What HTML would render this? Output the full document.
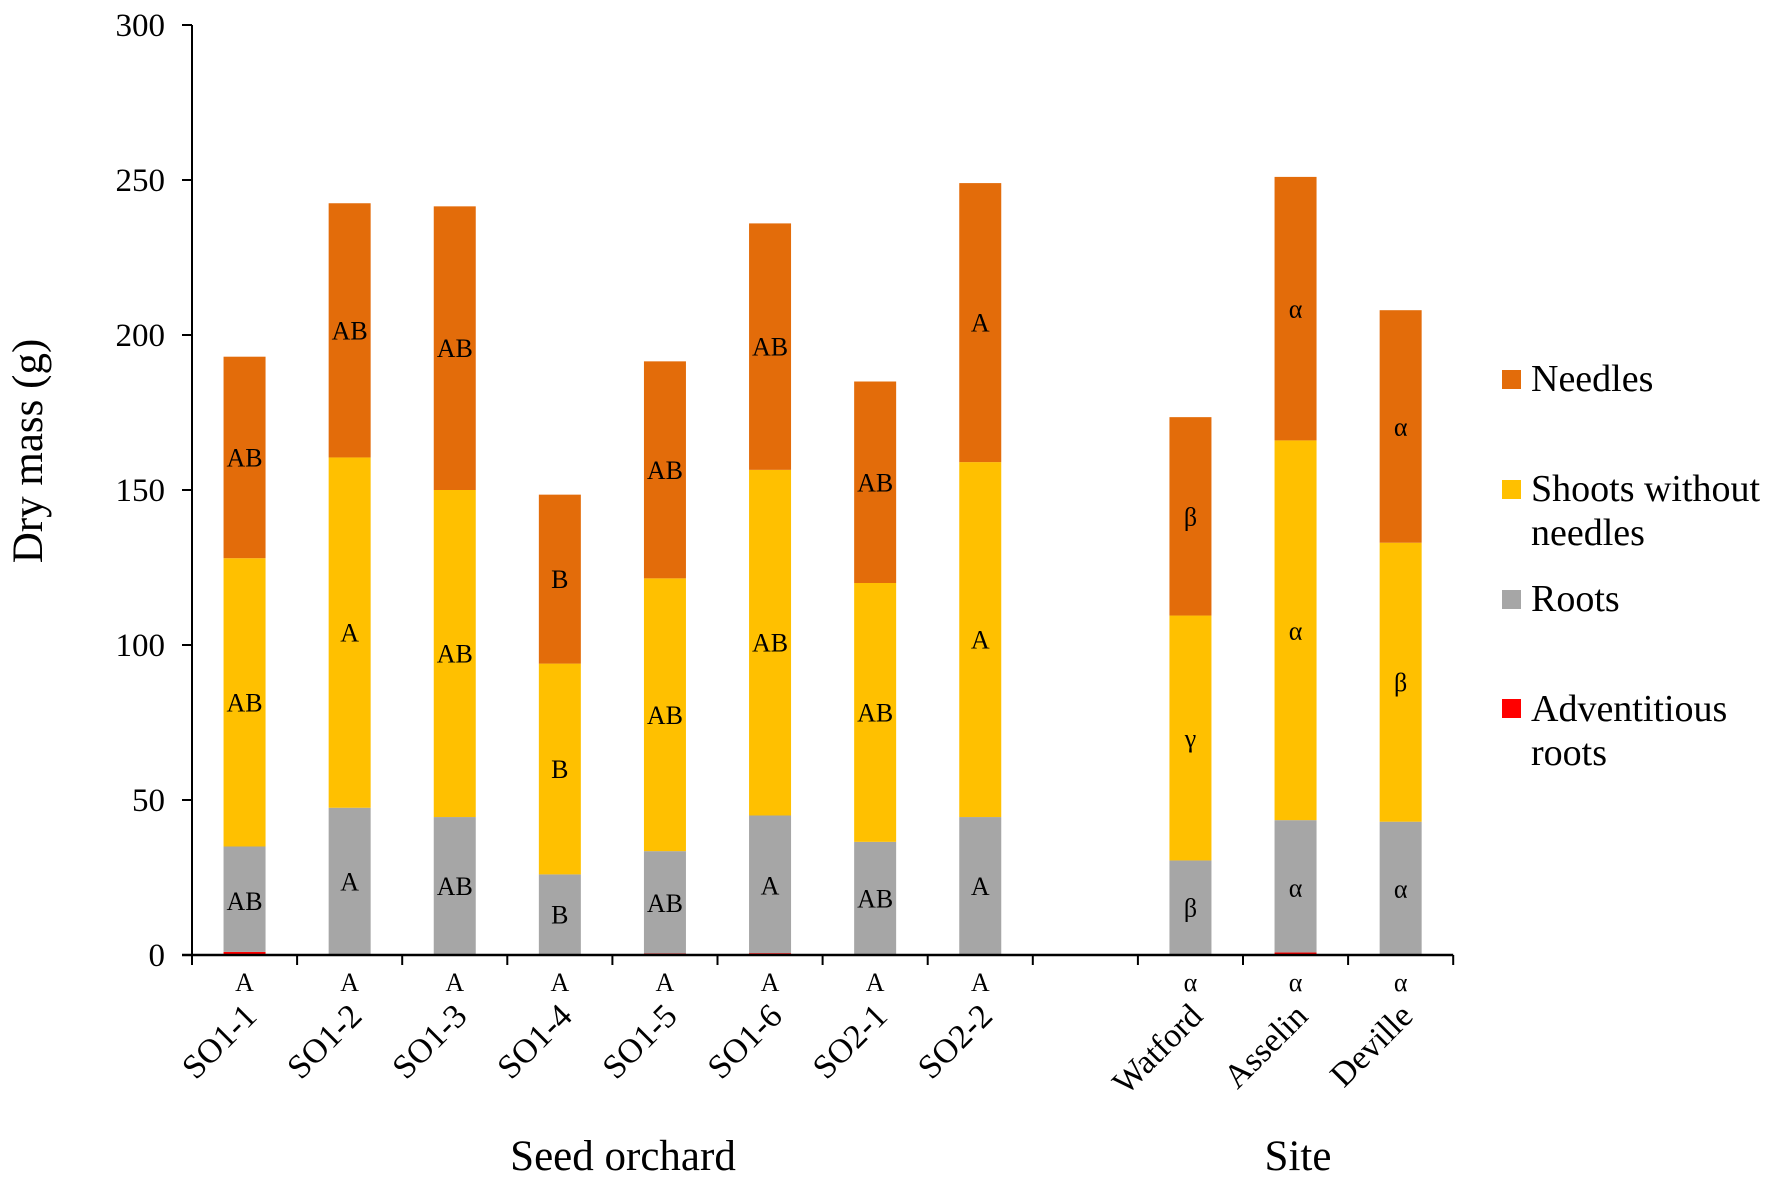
<!DOCTYPE html>
<html><head><meta charset="utf-8"><style>
html,body{margin:0;padding:0;background:#fff}
svg{display:block;font-family:"Liberation Serif",serif}
</style></head><body>
<svg id="chart" width="1772" height="1184" viewBox="0 0 1772 1184" xmlns="http://www.w3.org/2000/svg">
<g id="bars"></g>
<g id="axes"></g>
<text transform="translate(42,451) rotate(-90)" text-anchor="middle" font-size="43">Dry mass (g)</text>
<text x="623" y="1170" text-anchor="middle" font-size="43">Seed orchard</text>
<text x="1298" y="1170" text-anchor="middle" font-size="43">Site</text>
<g font-size="38">
 <g><rect x="1502" y="370" width="19" height="19" fill="#e36c0a"/><text x="1531" y="391">Needles</text></g>
 <g><rect x="1502" y="480" width="19" height="19" fill="#ffc000"/><text x="1531" y="501">Shoots without</text><text x="1531" y="545">needles</text></g>
 <g><rect x="1502" y="590" width="19" height="19" fill="#a6a6a6"/><text x="1531" y="611">Roots</text></g>
 <g><rect x="1502" y="699" width="19" height="19" fill="#ff0000"/><text x="1531" y="721">Adventitious</text><text x="1531" y="765">roots</text></g>
</g>
</svg>
<script>
const categories=["SO1-1","SO1-2","SO1-3","SO1-4","SO1-5","SO1-6","SO2-1","SO2-2","","Watford","Asselin","Deville"];
const advRoots=[1,0.3,0.3,0.3,0.5,0.6,0.3,0.3,null,0.3,0.8,0.3];
const rootsTop=[35,47.5,44.5,26,33.5,45,36.5,44.5,null,30.5,43.5,43];
const shootsTop=[128,160.5,150,94,121.5,156.5,120,159,null,109.5,166,133];
const totalTop=[193,242.5,241.5,148.5,191.5,236,185,249,null,173.5,251,208];
const needleLetters=["AB","AB","AB","B","AB","AB","AB","A","","β","α","α"];
const shootLetters=["AB","A","AB","B","AB","AB","AB","A","","γ","α","β"];
const rootLetters=["AB","A","AB","B","AB","A","AB","A","","β","α","α"];
const advLetters=["A","A","A","A","A","A","A","A","","α","α","α"];
const yTicks=[0,50,100,150,200,250,300];
const NS="http://www.w3.org/2000/svg";
const X0=192,SLOT=105.1,Y0=955,Y1=25,YMAX=300,BW=42;
function y(v){return Y0-v*(Y0-Y1)/YMAX;}
function cx(i){return X0+SLOT*(i+0.5);}
function mk(tag,attrs,parent,txt){const e=document.createElementNS(NS,tag);for(const k in attrs)e.setAttribute(k,attrs[k]);if(txt!==undefined)e.textContent=txt;parent.appendChild(e);return e;}
const bars=document.getElementById('bars'),axes=document.getElementById('axes');
categories.forEach((c,i)=>{
 if(totalTop[i]===null)return;
 const g=mk('g',{},bars);
 
 
 const segs=[[0,advRoots[i],'#ff0000'],[advRoots[i],rootsTop[i],'#a6a6a6'],[rootsTop[i],shootsTop[i],'#ffc000'],[shootsTop[i],totalTop[i],'#e36c0a']];
 const names=['adventitious','roots','shoots','needles'];
 segs.forEach((s,k)=>{
  const r=mk('rect',{x:cx(i)-BW/2,y:y(s[1]),width:BW,height:y(s[0])-y(s[1]),fill:s[2]},g);
  
  
 });
 const labs=[[rootLetters[i],(0+rootsTop[i])/2],[shootLetters[i],(rootsTop[i]+shootsTop[i])/2],[needleLetters[i],(shootsTop[i]+totalTop[i])/2]];
 labs.forEach(l=>{
  const t=mk('text',{x:cx(i),y:y(l[1])+9,'text-anchor':'middle','font-size':26},g,l[0]);
  
  
 });
 const a=mk('text',{x:cx(i),y:991,'text-anchor':'middle','font-size':26},g,advLetters[i]);
 
 
 const cl=mk('text',{transform:'translate('+(cx(i)+14)+',1018) rotate(-45)','text-anchor':'end','font-size':34},g,c);
 
 
});
const ya=mk('line',{x1:X0,y1:Y1,x2:X0,y2:Y0,stroke:'#000','stroke-width':2},axes);


const xa=mk('line',{x1:X0-10,y1:Y0,x2:X0+SLOT*categories.length,y2:Y0,stroke:'#000','stroke-width':2.5},axes);


yTicks.forEach(v=>{
 mk('line',{x1:X0-10,y1:y(v),x2:X0,y2:y(v),stroke:'#000','stroke-width':2},axes);
 const t=mk('text',{x:X0-27,y:y(v)+11,'text-anchor':'end','font-size':33},axes,v);
 
 
});
for(let i=0;i<=categories.length;i++){
 mk('line',{x1:X0+SLOT*i,y1:Y0,x2:X0+SLOT*i,y2:Y0+10,stroke:'#000','stroke-width':2},axes);
}
</script>
</body></html>
